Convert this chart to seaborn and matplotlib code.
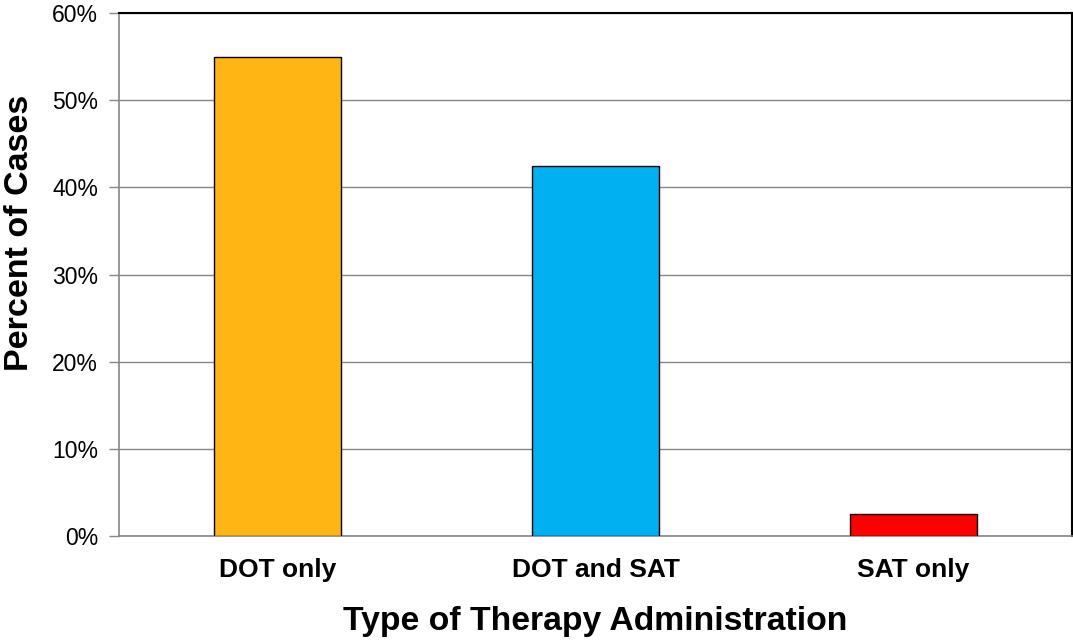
import pandas as pd
import seaborn as sns
import matplotlib.pyplot as plt
from matplotlib.ticker import FuncFormatter, FixedLocator

# Dados
categories = ["DOT only", "DOT and SAT", "SAT only"]
percents = [55.0, 42.5, 2.5]
bar_colors = ["#FDB614", "#00B0F0", "#FF0000"]

df = pd.DataFrame({"Type": categories, "Percent": percents})

sns.set_style("white")
plt.rcParams["font.family"] = ["Liberation Sans", "DejaVu Sans"]
plt.rcParams["text.color"] = "black"
plt.rcParams["axes.labelcolor"] = "black"
plt.rcParams["xtick.color"] = "black"
plt.rcParams["ytick.color"] = "black"

fig = plt.figure(figsize=(10.73, 6.41), dpi=100)
ax = fig.add_axes([0.1109, 0.1638, 0.8881, 0.8159])

sns.barplot(x="Type", y="Percent", data=df, hue="Type", palette=bar_colors,
            saturation=1, legend=False, width=0.4, edgecolor="black",
            linewidth=1, ax=ax, zorder=3)

ax.set_ylim(0, 60)
ax.set_xlim(-0.5, 2.5)
ax.set_yticks(range(0, 61, 10))
ax.yaxis.set_major_formatter(FuncFormatter(lambda v, p: f"{int(v)}%"))
ax.grid(axis="y", color="#868686", linewidth=1, zorder=0)

# ticks nas fronteiras das categorias
ax.set_xticks(range(3))
ax.set_xticklabels(categories, fontsize=19, fontweight="bold")
ax.xaxis.set_minor_locator(FixedLocator([-0.5, 0.5, 1.5, 2.5]))
ax.tick_params(axis="x", which="major", length=0, pad=16)
ax.tick_params(axis="x", which="minor", length=6, color="#868686", width=1, direction="out")
ax.tick_params(axis="y", length=7, color="#868686", width=1, direction="out",
               labelsize=16.5, pad=8, left=True, labelcolor="black")

for side in ["left", "bottom"]:
    ax.spines[side].set_color("#868686")
    ax.spines[side].set_linewidth(1.2)
for side in ["top", "right"]:
    ax.spines[side].set_color("black")
    ax.spines[side].set_linewidth(1.5)

ax.set_xlabel("Type of Therapy Administration", fontsize=24.3, fontweight="bold", labelpad=17)
ax.set_ylabel("Percent of Cases", fontsize=24.5, fontweight="bold")
ax.yaxis.set_label_coords(-0.088, 0.58)

plt.savefig("out.png", dpi=100)
plt.close()
